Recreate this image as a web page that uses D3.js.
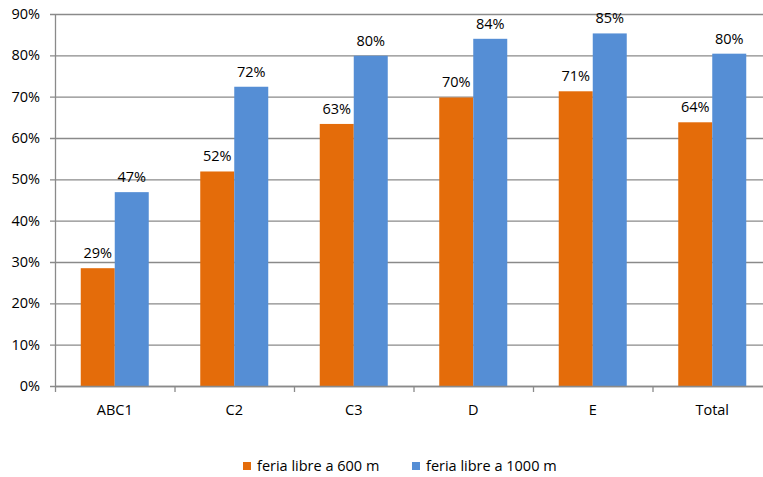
<!DOCTYPE html>
<html><head><meta charset="utf-8">
<script src="https://cdn.jsdelivr.net/npm/d3@7"></script>
<style>body{margin:0;background:#fff}svg{display:block}text{font-family:"Open Sans","Liberation Sans",sans-serif;fill:#000}</style>
</head><body><svg id="c" width="763" height="477"></svg>
<script>
const categories = ["ABC1","C2","C3","D","E","Total"];
const seriesNames = ["feria libre a 600 m","feria libre a 1000 m"];
const s600 = [28.5, 51.9, 63.4, 69.8, 71.3, 63.8];
const s1000 = [46.9, 72.4, 79.9, 84.0, 85.3, 80.4];
const labels600 = ["29%","52%","63%","70%","71%","64%"];
const labels1000 = ["47%","72%","80%","84%","85%","80%"];
const yTicks = [0,10,20,30,40,50,60,70,80,90];
const colors = ["#E46C0A","#558ED5"];

(function(){
const svg = d3.select("#c");
const pL = 55, pR = 772, pT = 14, pB = 386;
const x = d3.scaleBand().domain(categories).range([pL, pR]).paddingInner(0).paddingOuter(0);
const y = d3.scaleLinear().domain([0, 90]).range([pB, pT]);
const bw = 34;
const fs = 14.5;

svg.append("g").selectAll("line").data(yTicks).join("line")
  .attr("x1", pL - 5).attr("x2", 763).attr("y1", d => y(d) + 0.5).attr("y2", d => y(d) + 0.5)
  .attr("stroke", "#8a8a8a").attr("stroke-width", 1.3);

svg.append("g").selectAll("text").data(yTicks).join("text")
  .attr("x", 40).attr("y", d => y(d)).attr("dy", "0.35em").attr("text-anchor", "end")
  .attr("font-size", fs).text(d => d + "%");

const data = [s600, s1000];
const labs = [labels600, labels1000];
data.forEach((s, si) => {
  svg.append("g").selectAll("rect").data(categories).join("rect")
    .attr("x", c => x(c) + x.bandwidth()/2 - bw + si*bw)
    .attr("y", (c,i) => y(s[i]))
    .attr("width", bw).attr("height", (c,i) => pB - y(s[i]))
    .attr("fill", colors[si]);
  svg.append("g").selectAll("text").data(categories).join("text")
    .attr("x", c => x(c) + x.bandwidth()/2 - bw/2 + si*bw)
    .attr("y", (c,i) => y(s[i]) - 10)
    .attr("text-anchor", "middle").attr("font-size", fs)
    .text((c,i) => labs[si][i]);
});

svg.append("line").attr("x1", pL + 0.5).attr("x2", pL + 0.5).attr("y1", pT).attr("y2", pB)
  .attr("stroke", "#8a8a8a").attr("stroke-width", 1.3);
svg.append("line").attr("x1", pL).attr("x2", 763).attr("y1", pB + 0.5).attr("y2", pB + 0.5)
  .attr("stroke", "#8a8a8a").attr("stroke-width", 1.3);
const tickXs = categories.map(c => x(c)).concat([x.range()[1]]);
svg.append("g").selectAll("line").data(tickXs).join("line")
  .attr("x1", d => d + 0.5).attr("x2", d => d + 0.5).attr("y1", pB).attr("y2", pB + 6)
  .attr("stroke", "#8a8a8a").attr("stroke-width", 1.3);

svg.append("g").selectAll("text").data(categories).join("text")
  .attr("x", c => x(c) + x.bandwidth()/2).attr("y", 410).attr("dy", "0.35em")
  .attr("text-anchor", "middle").attr("font-size", fs).text(c => c);

const legX = [243, 412];
seriesNames.forEach((n, i) => {
  svg.append("rect").attr("x", legX[i]).attr("y", 462).attr("width", 8).attr("height", 8).attr("fill", colors[i]);
  svg.append("text").attr("x", legX[i] + 14).attr("y", 466).attr("dy", "0.35em").attr("font-size", fs).text(n);
});
})();
</script></body></html>
